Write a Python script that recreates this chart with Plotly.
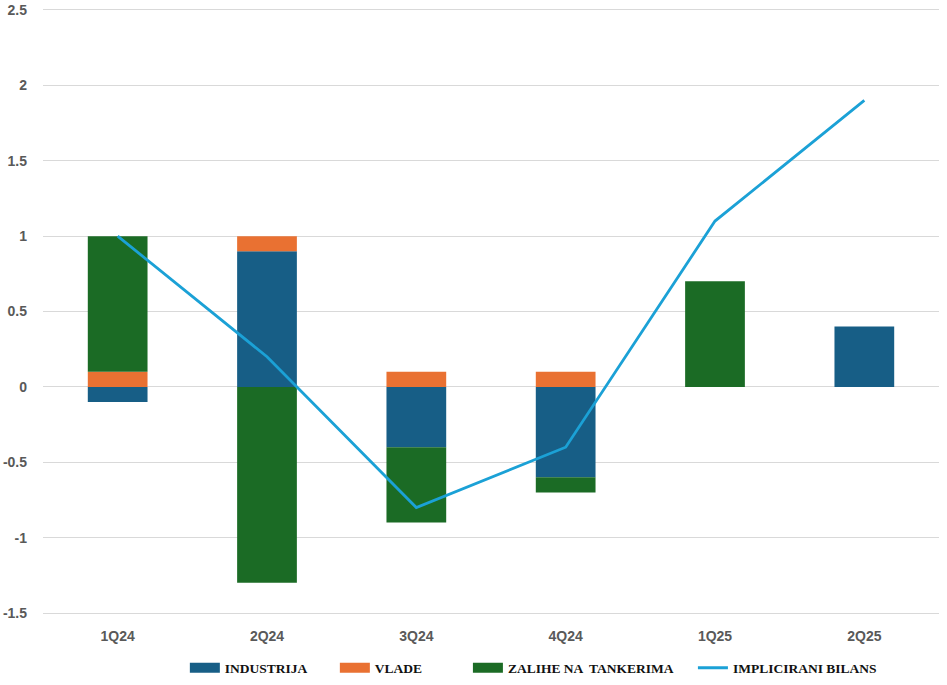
import plotly.graph_objects as go

categories = ["1Q24", "2Q24", "3Q24", "4Q24", "1Q25", "2Q25"]
industrija = [-0.1, 0.9, -0.4, -0.6, 0.0, 0.4]
vlade = [0.1, 0.1, 0.1, 0.1, 0.0, 0.0]
zalihe = [0.9, -1.3, -0.5, -0.1, 0.7, 0.0]
bilans = [1.0, 0.2, -0.8, -0.4, 1.1, 1.9]
y_ticks = [-1.5, -1, -0.5, 0, 0.5, 1, 1.5, 2, 2.5]
y_labels = ["-1.5", "-1", "-0.5", "0", "0.5", "1", "1.5", "2", "2.5"]

c_ind = "#175E86"
c_vla = "#E97132"
c_zal = "#1B6B25"
c_bil = "#1BA1D6"

fig = go.Figure()
fig.add_trace(go.Bar(name="INDUSTRIJA", x=categories, y=industrija, marker_color=c_ind,
                     marker_line_width=0, showlegend=False))
fig.add_trace(go.Bar(name="VLADE", x=categories, y=vlade, marker_color=c_vla,
                     marker_line_width=0, showlegend=False))
fig.add_trace(go.Bar(name="ZALIHE NA  TANKERIMA", x=categories, y=zalihe, marker_color=c_zal,
                     marker_line_width=0, showlegend=False))
fig.add_trace(go.Scatter(name="IMPLICIRANI BILANS", x=categories, y=bilans, mode="lines",
                         line=dict(color=c_bil, width=2.8), showlegend=False))

# legend proxies (wide rectangle symbols like the reference), each in its own legend box
legend_font = dict(family="Liberation Serif, Times New Roman, serif", size=13.5, color="#111111", weight="bold")
proxies = [("INDUSTRIJA", c_ind, 12, "legend", 0.1952),
           ("VLADE", c_vla, 12, "legend2", 0.3536),
           ("ZALIHE NA  TANKERIMA", c_zal, 12, "legend3", 0.4941),
           ("IMPLICIRANI BILANS", c_bil, 3, "legend4", 0.7317)]
legend_layouts = {}
for nm, col, w, lg, lx in proxies:
    fig.add_trace(go.Scatter(name=nm, x=[None], y=[None], mode="lines",
                             line=dict(color=col, width=w), showlegend=True, legend=lg))
    legend_layouts[lg] = dict(orientation="h", xref="container", x=lx, xanchor="left",
                              yref="container", y=0.025, yanchor="middle",
                              font=legend_font, itemwidth=30, bgcolor="rgba(0,0,0,0)")

fig.update_layout(
    width=947, height=685,
    margin=dict(l=43, r=8, t=10, b=72, autoexpand=False),
    barmode="relative",
    bargap=0.6,
    plot_bgcolor="white",
    paper_bgcolor="white",
    showlegend=True,
    xaxis=dict(showgrid=False, showline=True, mirror=True, linecolor="#D9D9D9", linewidth=1,
               ticks="", automargin=False, ticklabelstandoff=10,
               tickfont=dict(family="Liberation Sans Narrow, Arial Narrow, Liberation Sans", size=14, color="#595959", weight="bold")),
    yaxis=dict(range=[-1.5, 2.5], tickvals=y_ticks, ticktext=y_labels, automargin=False,
               showgrid=True, gridcolor="#D9D9D9", gridwidth=1,
               zeroline=True, zerolinecolor="#D9D9D9", zerolinewidth=1,
               showline=False, ticks="", ticklabelstandoff=15,
               tickfont=dict(family="Liberation Sans, Arial, sans-serif", size=14, color="#595959", weight="bold")),
    **legend_layouts,
)

fig.write_html("out.html", config={"displayModeBar": False},
               post_script="document.body.style.margin='0px';")
